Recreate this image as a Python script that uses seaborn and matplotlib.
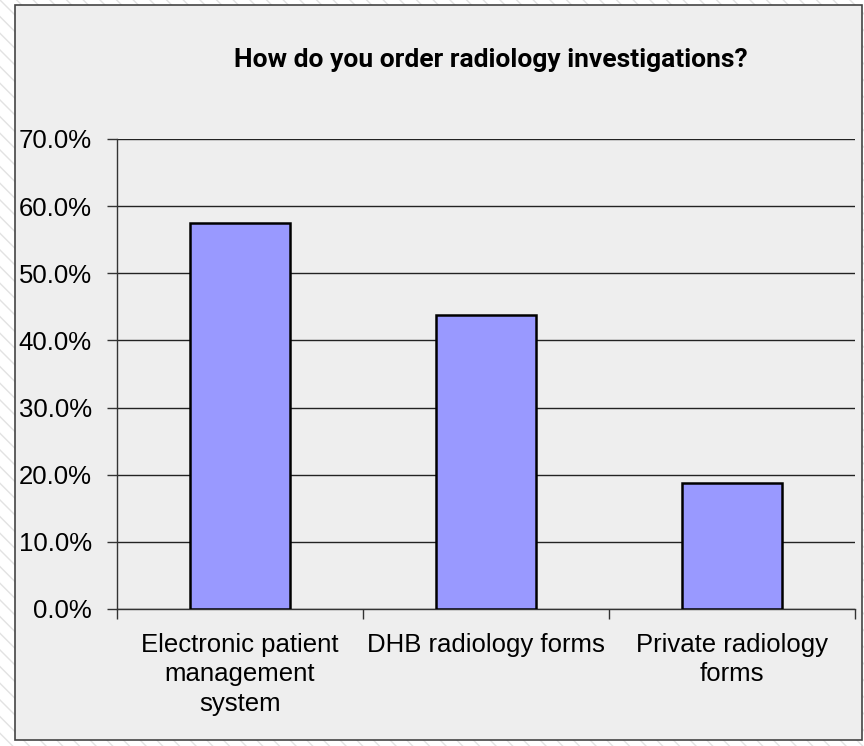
import matplotlib
matplotlib.use("Agg")
import matplotlib.pyplot as plt
from matplotlib.patches import Rectangle
from matplotlib.ticker import FuncFormatter, MultipleLocator
import pandas as pd
import seaborn as sns

# Survey answers (share of respondents)
categories = [
    "Electronic patient\nmanagement\nsystem",
    "DHB radiology forms",
    "Private radiology\nforms",
]
shares = [0.575, 0.438, 0.188]

df = pd.DataFrame({"method": categories, "share": shares})

sns.set_style("white")
plt.rcParams["font.family"] = ["Liberation Sans", "DejaVu Sans"]
plt.rcParams["text.color"] = "black"
plt.rcParams["xtick.color"] = "black"
plt.rcParams["ytick.color"] = "black"

fig = plt.figure(figsize=(8.64, 7.46), dpi=100)
fig.patch.set_facecolor("white")

# hatched page background and grey chart area
fig.patches.append(Rectangle((0, 0), 1, 1, transform=fig.transFigure,
                             facecolor="white", edgecolor="#e2e2e2",
                             hatch="\\\\", linewidth=0, zorder=-3))
fig.patches.append(Rectangle((15 / 864, 6 / 746), 847 / 864, 735 / 746,
                             transform=fig.transFigure, facecolor="#eeeeee",
                             edgecolor="#444444", linewidth=1.2, zorder=-2))

ax = fig.add_axes([117 / 864, 1 - 609 / 746, 738 / 864, 470 / 746])
ax.set_facecolor("#eeeeee")

sns.barplot(data=df, x="method", y="share", color="#9999ff",
            edgecolor="black", linewidth=1.8, width=0.41,
            saturation=1, ax=ax, zorder=3)

ax.set_ylim(0, 0.7)
ax.set_xlim(-0.5, 2.5)
ax.yaxis.set_major_locator(MultipleLocator(0.1))
ax.yaxis.set_major_formatter(FuncFormatter(lambda v, p: f"{v * 100:.1f}%"))
ax.grid(axis="y", color="#222222", linewidth=1.0, zorder=0)
ax.set_axisbelow(True)

for side in ["top", "right"]:
    ax.spines[side].set_visible(False)
for side in ["left", "bottom"]:
    ax.spines[side].set_color("#333333")
    ax.spines[side].set_linewidth(1.0)

# ticks between the categories on x, outward ticks on y
ax.set_xticks([0, 1, 2])
ax.set_xticklabels(categories, fontsize=18.5, linespacing=1.3)
ax.set_xticks([-0.5, 0.5, 1.5, 2.5], minor=True)
ax.tick_params(axis="x", which="major", length=0, pad=17)
ax.tick_params(axis="x", which="minor", length=7, width=1, color="#333333",
               direction="out", bottom=True)
ax.tick_params(axis="y", labelsize=18.5, length=7, width=1, color="#333333",
               direction="out", left=True, pad=11)

ax.set_xlabel("")
ax.set_ylabel("")

fig.text(491 / 864, 1 - 60 / 746, "How do you order radiology investigations?",
         ha="center", va="center", fontsize=19, fontweight="bold",
         family=["Roboto", "Liberation Sans", "DejaVu Sans"])

fig.savefig("out.png", dpi=100)
